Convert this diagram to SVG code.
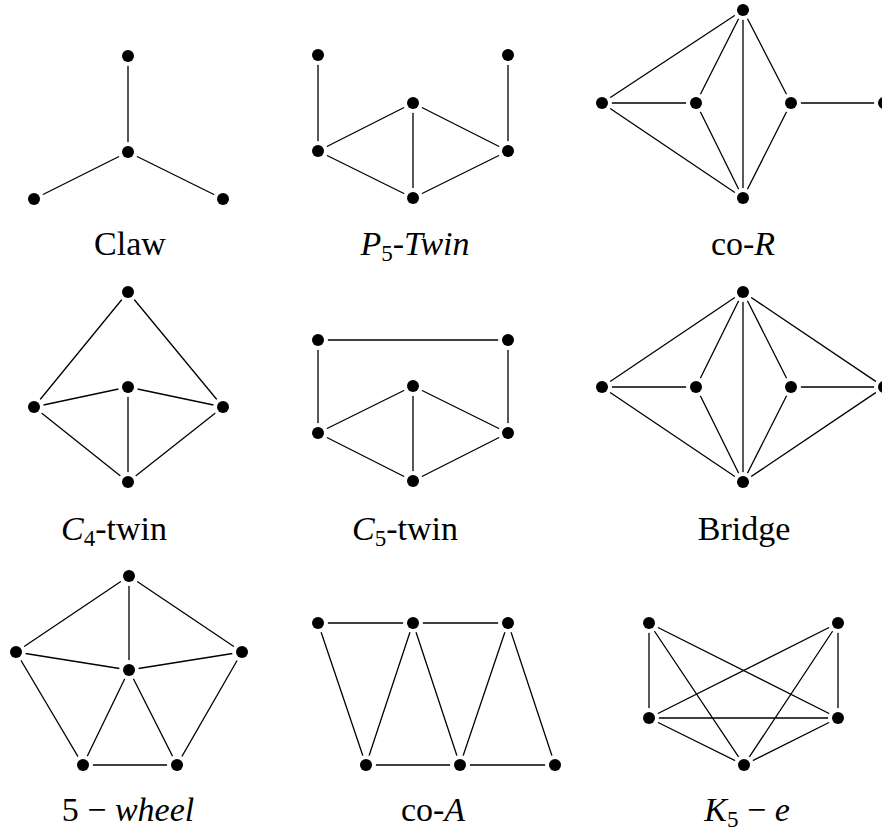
<svg xmlns="http://www.w3.org/2000/svg" width="882" height="833" viewBox="0 0 882 833">
<style>
.e{stroke:#000;stroke-width:1.3;fill:none}
text{font-family:"Liberation Serif","DejaVu Serif",serif;font-size:34px;fill:#000;text-anchor:middle}
.i{font-style:italic}
.s{font-size:23px}
</style>
<defs>
<g id="n"><circle r="10" fill="#fff"/><circle r="6" fill="#000"/></g>
</defs>
<rect width="882" height="833" fill="#fff"/>
<g id="connectors">
<path class="e" d="M128,56L128,152M128,152L34,199M128,152L223,199"/>
<path class="e" d="M318,55L318,151M508,55L508,151M318,151L413,103M413,103L508,151M318,151L413,198M413,198L508,151M413,103L413,198"/>
<path class="e" d="M602,103L696,103M602,103L743,10M602,103L743,198M696,103L743,10M696,103L743,198M743,10L743,198M743,10L791,103M791,103L743,198M791,103L884,103"/>
<path class="e" d="M128,292L34,407M128,292L223,407M34,407L128,387M128,387L223,407M34,407L128,482M223,407L128,482M128,387L128,482"/>
<path class="e" d="M318,340L508,340M318,340L318,433M508,340L508,433M318,433L413,386M413,386L508,433M318,433L413,481M413,481L508,433M413,386L413,481"/>
<path class="e" d="M602,387L743,292M602,387L696,387M602,387L743,482M696,387L743,292M696,387L743,482M743,292L743,482M743,292L791,387M791,387L743,482M791,387L884,387M743,292L884,387M884,387L743,482"/>
<path class="e" d="M129,576L16,652M129,576L242,652M129,576L129,670M16,652L129,670M242,652L129,670M16,652L83,765M242,652L177,765M83,765L177,765M129,670L83,765M129,670L177,765"/>
<path class="e" d="M318,623L508,623M366,765L555,765M318,623L366,765M366,765L413,623M413,623L460,765M460,765L508,623M508,623L555,765"/>
<path class="e" d="M649,623L649,718M838,623L838,718M649,623L838,718M838,623L649,718M649,623L744,765M838,623L744,765M649,718L838,718M649,718L744,765M838,718L744,765"/>
</g>
<g id="claw">
<use href="#n" x="128" y="56"/><use href="#n" x="128" y="152"/><use href="#n" x="34" y="199"/><use href="#n" x="223" y="199"/>
<text x="130" y="255">Claw</text>
</g>
<g id="p5twin">
<use href="#n" x="318" y="55"/><use href="#n" x="508" y="55"/><use href="#n" x="318" y="151"/><use href="#n" x="413" y="103"/><use href="#n" x="508" y="151"/><use href="#n" x="413" y="198"/>
<text x="415" y="255"><tspan class="i">P</tspan><tspan class="s" dy="6">5</tspan><tspan dy="-6">-</tspan><tspan class="i">Twin</tspan></text>
</g>
<g id="coR">
<use href="#n" x="743" y="10"/><use href="#n" x="602" y="103"/><use href="#n" x="696" y="103"/><use href="#n" x="791" y="103"/><use href="#n" x="884" y="103"/><use href="#n" x="743" y="198"/>
<text x="743" y="255">co-<tspan class="i">R</tspan></text>
</g>
<g id="c4twin">
<use href="#n" x="128" y="292"/><use href="#n" x="34" y="407"/><use href="#n" x="128" y="387"/><use href="#n" x="223" y="407"/><use href="#n" x="128" y="482"/>
<text x="114" y="540"><tspan class="i">C</tspan><tspan class="s" dy="6">4</tspan><tspan dy="-6">-twin</tspan></text>
</g>
<g id="c5twin">
<use href="#n" x="318" y="340"/><use href="#n" x="508" y="340"/><use href="#n" x="318" y="433"/><use href="#n" x="413" y="386"/><use href="#n" x="508" y="433"/><use href="#n" x="413" y="481"/>
<text x="405" y="540"><tspan class="i">C</tspan><tspan class="s" dy="6">5</tspan><tspan dy="-6">-twin</tspan></text>
</g>
<g id="bridge">
<use href="#n" x="743" y="292"/><use href="#n" x="602" y="387"/><use href="#n" x="696" y="387"/><use href="#n" x="791" y="387"/><use href="#n" x="884" y="387"/><use href="#n" x="743" y="482"/>
<text x="744" y="540">Bridge</text>
</g>
<g id="wheel5">
<use href="#n" x="129" y="576"/><use href="#n" x="16" y="652"/><use href="#n" x="242" y="652"/><use href="#n" x="129" y="670"/><use href="#n" x="83" y="765"/><use href="#n" x="177" y="765"/>
<text x="128" y="821">5 − <tspan class="i">wheel</tspan></text>
</g>
<g id="coA">
<use href="#n" x="318" y="623"/><use href="#n" x="413" y="623"/><use href="#n" x="508" y="623"/><use href="#n" x="366" y="765"/><use href="#n" x="460" y="765"/><use href="#n" x="555" y="765"/>
<text x="433" y="821">co-<tspan class="i">A</tspan></text>
</g>
<g id="k5e">
<use href="#n" x="649" y="623"/><use href="#n" x="838" y="623"/><use href="#n" x="649" y="718"/><use href="#n" x="838" y="718"/><use href="#n" x="744" y="765"/>
<text x="747" y="821"><tspan class="i">K</tspan><tspan class="s" dy="6">5</tspan><tspan dy="-6"> − </tspan><tspan class="i">e</tspan></text>
</g>
</svg>
